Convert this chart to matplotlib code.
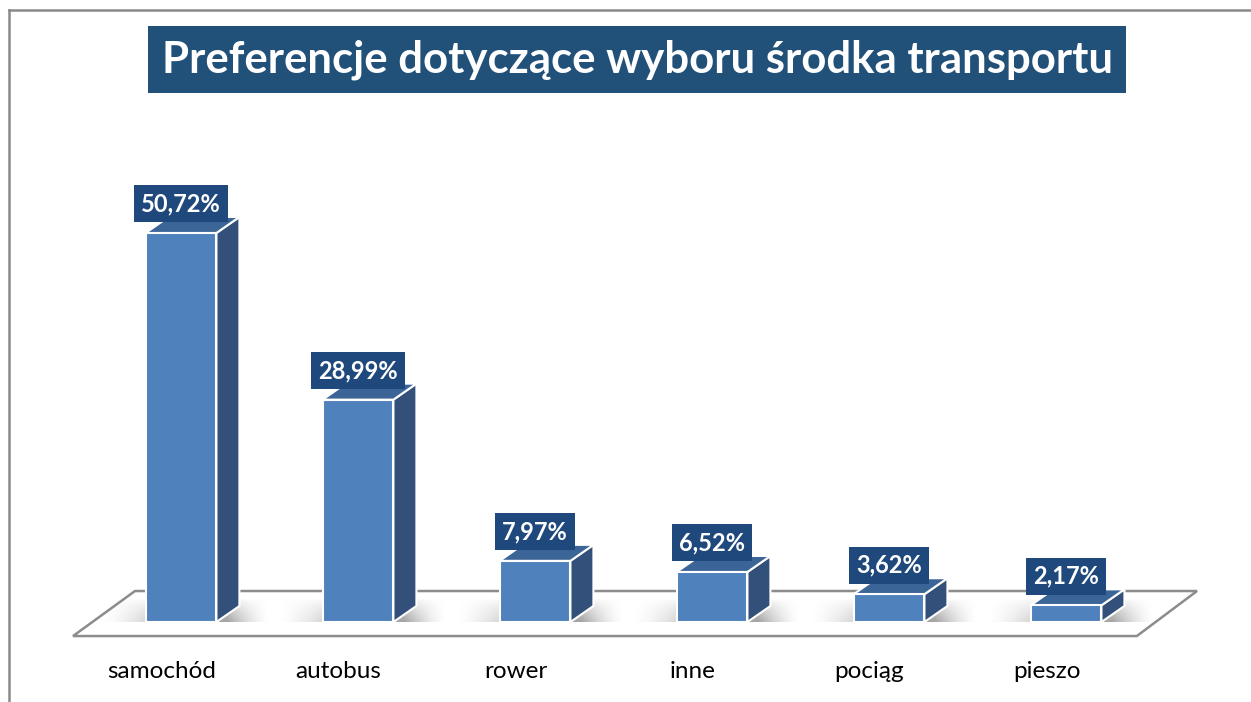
import numpy as np
import matplotlib.pyplot as plt
from matplotlib.patches import Polygon, Rectangle
from matplotlib.lines import Line2D

categories = ['samochód', 'autobus', 'rower', 'inne', 'pociąg', 'pieszo']
values = [50.72, 28.99, 7.97, 6.52, 3.62, 2.17]
value_labels = ['50,72%', '28,99%', '7,97%', '6,52%', '3,62%', '2,17%']
title = 'Preferencje dotyczące wyboru środka transportu'

FRONT = '#4F81BD'
SIDE = '#33507A'
TOP = '#3C6597'
LABEL_BG = '#1F497D'
TITLE_BG = '#215079'
FLOOR_EDGE = '#8c8c8c'

plt.rcParams['font.family'] = ['Lato', 'DejaVu Sans']

fig = plt.figure(figsize=(12.51, 7.02), dpi=100)
ax = fig.add_axes([0, 0, 1, 1])
ax.set_xlim(-1.0226, 6.045)
ax.set_ylim(-10.43, 81.1)
ax.axis('off')

hw = 0.2            # half width of the front face
dx, dy = 0.13, 2.09  # depth offset of the 3d look

# floor
floor = Polygon([(-0.61, -1.83), (5.40, -1.83), (5.74, 4.04), (-0.26, 4.04)],
                closed=True, facecolor='white', edgecolor=FLOOR_EDGE, lw=1.8, zorder=1)
ax.add_patch(floor)

# soft shadow under each bar
nx, ny = 120, 20
xs = np.linspace(0, 1, nx)
ys = np.linspace(0, 1, ny)
ax_prof = np.clip(np.minimum(xs / 0.45, (1 - xs) / 0.25), 0, 1) ** 1.5
ay_prof = np.clip(1 - ys, 0, 1) ** 0.7
shadow = np.zeros((ny, nx, 4))
shadow[..., :3] = 0.35
shadow[..., 3] = 0.55 * np.outer(ay_prof, ax_prof)

for i, v in enumerate(values):
    c = i
    ax.imshow(shadow, extent=(c - 0.45, c + 0.5, 0, 3.0), origin='lower',
              aspect='auto', zorder=2, interpolation='bilinear')

    front = Rectangle((c - hw, 0), 2 * hw, v, facecolor=FRONT, edgecolor='white',
                      lw=1.5, zorder=4)
    side = Polygon([(c + hw, 0), (c + hw + dx, dy), (c + hw + dx, v + dy), (c + hw, v)],
                   closed=True, facecolor=SIDE, edgecolor='white', lw=1.5, zorder=3)
    top = Polygon([(c - hw, v), (c + hw, v), (c + hw + dx, v + dy), (c - hw + dx, v + dy)],
                  closed=True, facecolor=TOP, edgecolor='white', lw=1.5, zorder=3)
    ax.add_patch(side)
    ax.add_patch(top)
    ax.add_patch(front)

    ax.text(c, v + 3.8, value_labels[i], ha='center', va='center', color='white',
            fontsize=17, fontweight='bold', zorder=6,
            bbox=dict(boxstyle='square,pad=0.3', fc=LABEL_BG, ec='none'))

    ax.text(c - 0.11, -6.5, categories[i], ha='center', va='center', color='black',
            fontsize=17.5, zorder=6)

fig.text(637 / 1251, 1 - 59.5 / 702, title, ha='center', va='center', color='white',
         fontsize=31.5, fontweight='bold',
         bbox=dict(boxstyle='square,pad=0.3', fc=TITLE_BG, ec='none'))

# outer frame (left and top visible)
fig.add_artist(Line2D([9 / 1251, 9 / 1251], [0, 1 - 10 / 702], transform=fig.transFigure,
                      color='#8a8a8a', lw=1.8))
fig.add_artist(Line2D([9 / 1251, 1], [1 - 10 / 702, 1 - 10 / 702], transform=fig.transFigure,
                      color='#8a8a8a', lw=1.8))

fig.savefig('out.png', dpi=100)
